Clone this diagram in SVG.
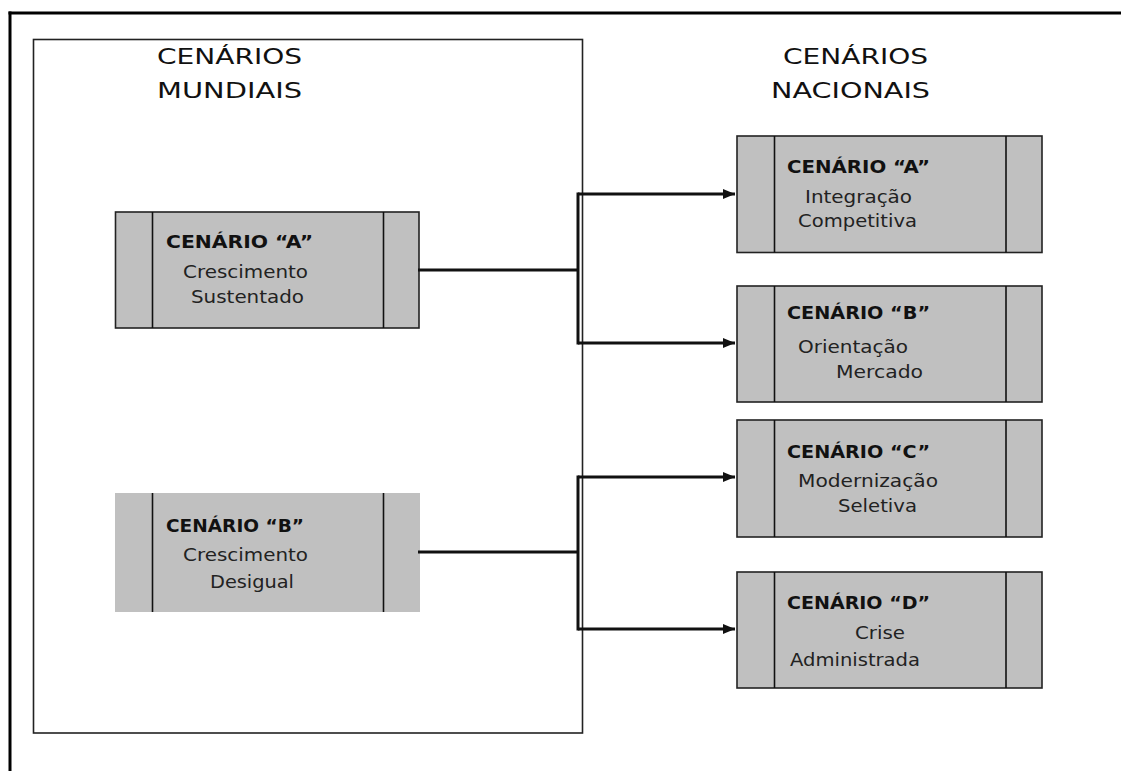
<svg xmlns="http://www.w3.org/2000/svg" width="1121" height="771" viewBox="0 0 1121 771">
<style>
.box{fill:#c0c0c0;stroke:#222;stroke-width:1.6}
.div{stroke:#111;stroke-width:1.6;fill:none}
.title{font-family:"DejaVu Sans",Verdana,sans-serif;font-size:21px;fill:#111}
.hd{font-family:"DejaVu Sans",Verdana,sans-serif;font-size:17px;font-weight:bold;fill:#111}
.tx{font-family:"DejaVu Sans",Verdana,sans-serif;font-size:17px;fill:#222}
.con{stroke:#111;stroke-width:3;fill:none}
</style>
<defs>
<marker id="arr" markerUnits="userSpaceOnUse" markerWidth="14" markerHeight="12" refX="12" refY="5" orient="auto">
<path d="M0,0 L12,5 L0,10 z" fill="#111"/>
</marker>
</defs>
<rect width="1121" height="771" fill="#fff"/>
<g id="frame">
<line x1="8.5" y1="13" x2="1121" y2="13" stroke="#000" stroke-width="3"/>
<line x1="10" y1="11.5" x2="10" y2="771" stroke="#000" stroke-width="3"/>
</g>
<g id="mundiais">
<rect x="33.5" y="39.5" width="549" height="693.5" fill="none" stroke="#222" stroke-width="1.6"/>
<text class="title" x="157" y="64" textLength="145" lengthAdjust="spacingAndGlyphs">CENÁRIOS</text>
<text class="title" x="157" y="98" textLength="145" lengthAdjust="spacingAndGlyphs">MUNDIAIS</text>
</g>
<g id="nacionais-title">
<text class="title" x="783" y="64" textLength="145" lengthAdjust="spacingAndGlyphs">CENÁRIOS</text>
<text class="title" x="771" y="98" textLength="159" lengthAdjust="spacingAndGlyphs">NACIONAIS</text>
</g>
<g id="mundial-a">
<rect class="box" x="115.5" y="212" width="303.5" height="116"/>
<line class="div" x1="152.5" y1="212" x2="152.5" y2="328"/>
<line class="div" x1="383.5" y1="212" x2="383.5" y2="328"/>
<text class="hd" x="166" y="248" textLength="147" lengthAdjust="spacingAndGlyphs">CENÁRIO “A”</text>
<text class="tx" x="183" y="278" textLength="125" lengthAdjust="spacingAndGlyphs">Crescimento</text>
<text class="tx" x="191" y="303" textLength="113" lengthAdjust="spacingAndGlyphs">Sustentado</text>
</g>
<g id="mundial-b">
<rect x="115" y="493" width="305" height="119" fill="#c0c0c0"/>
<line class="div" x1="152.5" y1="493" x2="152.5" y2="612"/>
<line class="div" x1="383.5" y1="493" x2="383.5" y2="612"/>
<text class="hd" x="166" y="532" textLength="138" lengthAdjust="spacingAndGlyphs">CENÁRIO “B”</text>
<text class="tx" x="183" y="561" textLength="125" lengthAdjust="spacingAndGlyphs">Crescimento</text>
<text class="tx" x="210" y="588" textLength="84" lengthAdjust="spacingAndGlyphs">Desigual</text>
</g>
<g id="nacional-a">
<rect class="box" x="737" y="136" width="305" height="116.5"/>
<line class="div" x1="774.5" y1="136" x2="774.5" y2="252.5"/>
<line class="div" x1="1006" y1="136" x2="1006" y2="252.5"/>
<text class="hd" x="787" y="173" textLength="143" lengthAdjust="spacingAndGlyphs">CENÁRIO “A”</text>
<text class="tx" x="805" y="203" textLength="107" lengthAdjust="spacingAndGlyphs">Integração</text>
<text class="tx" x="798" y="227" textLength="119" lengthAdjust="spacingAndGlyphs">Competitiva</text>
</g>
<g id="nacional-b">
<rect class="box" x="737" y="286" width="305" height="116"/>
<line class="div" x1="774.5" y1="286" x2="774.5" y2="402"/>
<line class="div" x1="1006" y1="286" x2="1006" y2="402"/>
<text class="hd" x="787" y="319" textLength="143" lengthAdjust="spacingAndGlyphs">CENÁRIO “B”</text>
<text class="tx" x="798" y="353" textLength="110" lengthAdjust="spacingAndGlyphs">Orientação</text>
<text class="tx" x="836" y="378" textLength="87" lengthAdjust="spacingAndGlyphs">Mercado</text>
</g>
<g id="nacional-c">
<rect class="box" x="737" y="420" width="305" height="117"/>
<line class="div" x1="774.5" y1="420" x2="774.5" y2="537"/>
<line class="div" x1="1006" y1="420" x2="1006" y2="537"/>
<text class="hd" x="787" y="458" textLength="143" lengthAdjust="spacingAndGlyphs">CENÁRIO “C”</text>
<text class="tx" x="798" y="487" textLength="140" lengthAdjust="spacingAndGlyphs">Modernização</text>
<text class="tx" x="838" y="512" textLength="79" lengthAdjust="spacingAndGlyphs">Seletiva</text>
</g>
<g id="nacional-d">
<rect class="box" x="737" y="572" width="305" height="116"/>
<line class="div" x1="774.5" y1="572" x2="774.5" y2="688"/>
<line class="div" x1="1006" y1="572" x2="1006" y2="688"/>
<text class="hd" x="787" y="609" textLength="143" lengthAdjust="spacingAndGlyphs">CENÁRIO “D”</text>
<text class="tx" x="855" y="639" textLength="50" lengthAdjust="spacingAndGlyphs">Crise</text>
<text class="tx" x="790" y="666" textLength="130" lengthAdjust="spacingAndGlyphs">Administrada</text>
</g>
<g id="connectors">
<path class="con" d="M418,270 H578"/>
<path class="con" d="M578,192.5 V344.5"/>
<path class="con" d="M578,194 H735" marker-end="url(#arr)"/>
<path class="con" d="M578,343 H735" marker-end="url(#arr)"/>
<path class="con" d="M418,552 H578"/>
<path class="con" d="M578,475.5 V630.5"/>
<path class="con" d="M578,477 H735" marker-end="url(#arr)"/>
<path class="con" d="M578,629 H735" marker-end="url(#arr)"/>
</g>
</svg>
